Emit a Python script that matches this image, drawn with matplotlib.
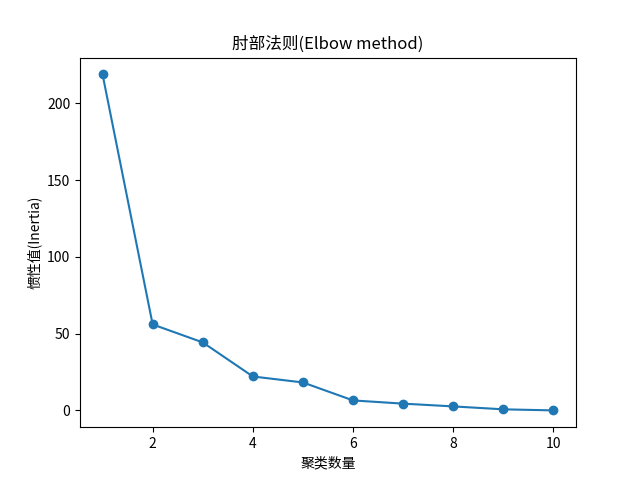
import matplotlib
matplotlib.use("Agg")
import matplotlib.pyplot as plt

plt.rcParams['font.family'] = ['Noto Sans CJK SC', 'DejaVu Sans']
plt.rcParams['axes.unicode_minus'] = False

# cluster counts and inertia
k_values = [1, 2, 3, 4, 5, 6, 7, 8, 9, 10]
inertia = [218.9, 56.0, 44.3, 22.1, 18.2, 6.5, 4.4, 2.6, 0.7, 0.0]

fig = plt.figure(figsize=(6.4, 4.8), dpi=100)
plt.plot(k_values, inertia, marker='o')
plt.title('肘部法则(Elbow method)')
plt.xlabel('聚类数量')
plt.ylabel('惯性值(Inertia)')
plt.savefig('out.png')
